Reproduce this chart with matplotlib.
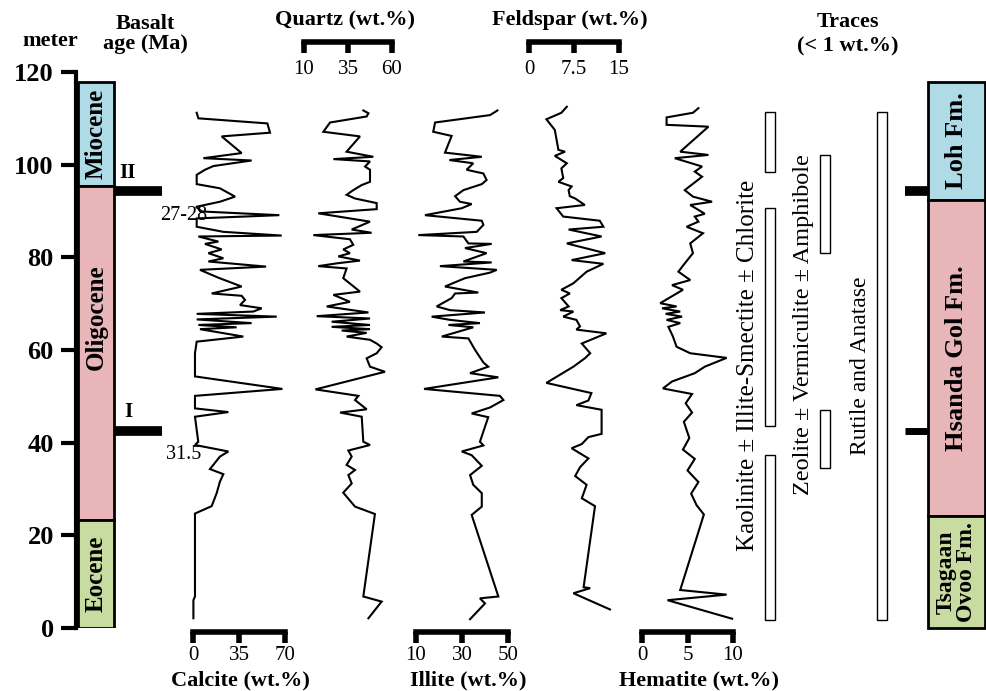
import matplotlib
matplotlib.use("Agg")
import matplotlib.pyplot as plt

plt.rcParams['font.family'] = ['Liberation Serif', 'DejaVu Serif']

W, H = 987, 691

# ---- DATA -------------------------------------------------------------
# depth (m) / content (wt.%) read from the logs, top to bottom
calcite_depth = [111.2, 110.0, 108.9, 106.9, 106.1, 102.5, 101.4, 100.9, 99.7, 98.9,
                 97.8, 95.8, 94.9, 93.1, 92.0, 90.9, 89.9, 89.1, 88.4, 86.6,
                 85.5, 84.7, 84.5, 83.4, 82.9, 81.7, 80.9, 79.8, 79.1, 78.0,
                 77.3, 75.6, 73.7, 72.2, 71.7, 70.8, 69.7, 69.0, 68.3, 67.8,
                 67.2, 66.6, 65.8, 65.4, 64.9, 64.5, 62.9, 61.8, 59.3, 54.3,
                 51.6, 50.1, 47.4, 46.6, 45.6, 40.2, 39.5, 38.1, 37.0, 34.3,
                 33.2, 31.6, 29.1, 26.3, 24.7, 6.8, 6.0, 2.1]
calcite = [2.8, 4.1, 56.6, 58.6, 21.8, 37.0, 7.9, 44.6, 15.5, 9.1,
           2.8, 2.8, 20.5, 32.0, 20.5, 2.3, 6.6, 65.7, 2.8, 2.8,
           23.1, 67.5, 4.1, 19.3, 9.1, 21.8, 11.7, 23.1, 11.7, 55.6,
           5.3, 19.3, 37.0, 14.2, 37.0, 39.6, 35.8, 52.3, 45.9, 2.8,
           63.7, 2.8, 44.6, 4.1, 33.2, 5.3, 38.3, 2.8, 1.5, 1.5,
           68.0, 1.5, 1.5, 26.9, 1.5, 4.0, 1.5, 26.9, 20.5, 12.9,
           23.1, 20.5, 18.0, 14.2, 1.5, 1.5, 0.3, 0.3]

quartz_depth = [111.7, 111.1, 110.4, 109.1, 107.1, 106.1, 102.8, 101.7, 101.2, 100.7,
                99.6, 98.9, 96.3, 95.6, 94.5, 93.5, 92.7, 91.7, 90.4, 89.5,
                87.7, 86.0, 85.3, 84.8, 83.9, 82.7, 81.7, 80.9, 80.2, 79.3,
                78.7, 78.1, 77.6, 75.5, 72.6, 71.9, 70.4, 69.4, 68.1, 67.3,
                66.8, 66.1, 65.4, 65.0, 64.5, 64.2, 63.7, 62.9, 62.2, 61.4,
                60.6, 59.3, 58.2, 56.4, 55.3, 51.5, 50.1, 49.2, 47.2, 46.5,
                45.6, 40.2, 39.5, 38.3, 37.0, 35.2, 34.1, 33.0, 31.2, 29.2,
                26.2, 24.6, 6.8, 5.7, 2.1]
quartz = [43.7, 46.6, 45.6, 24.8, 21.0, 41.8, 34.2, 49.4, 26.7, 47.5,
          44.7, 47.5, 47.5, 42.8, 38.0, 34.2, 39.0, 51.3, 51.3, 18.1,
          47.5, 37.1, 48.4, 15.3, 36.1, 38.0, 32.3, 36.1, 29.5, 41.8,
          28.6, 18.1, 34.2, 32.3, 41.8, 26.7, 36.1, 22.9, 46.6, 17.2,
          47.5, 25.7, 47.5, 25.7, 47.5, 31.4, 45.6, 34.2, 47.5, 51.3,
          54.1, 51.3, 45.6, 47.5, 56.0, 16.5, 40.9, 39.0, 45.6, 30.5,
          42.8, 43.7, 47.5, 35.2, 37.1, 34.2, 39.0, 35.2, 37.1, 32.3,
          39.0, 50.3, 43.7, 54.1, 46.6]

illite_depth = [111.7, 110.7, 109.1, 107.1, 106.2, 102.6, 101.7, 101.0, 100.3, 98.9,
                98.1, 96.7, 95.8, 94.5, 93.2, 92.0, 91.5, 90.6, 89.1, 87.9,
                87.0, 85.5, 84.8, 84.5, 83.0, 82.9, 82.0, 80.9, 79.1, 78.9,
                78.1, 77.3, 76.7, 75.5, 73.7, 72.4, 72.2, 71.2, 69.4, 68.6,
                68.1, 67.2, 66.5, 65.8, 65.4, 64.9, 62.9, 62.5, 60.0, 57.3,
                56.4, 55.0, 54.1, 51.6, 50.1, 49.2, 47.6, 46.3, 45.5, 40.2,
                39.4, 38.1, 37.3, 35.0, 33.0, 30.9, 29.1, 26.2, 24.4, 6.8,
                6.4, 5.3, 1.9]
illite = [45.4, 42.2, 18.3, 17.5, 25.5, 22.6, 38.6, 24.5, 34.9, 32.0,
          39.3, 40.7, 38.6, 30.6, 27.0, 29.1, 34.2, 29.9, 13.9, 38.6,
          39.3, 36.4, 11.0, 30.6, 32.8, 42.9, 31.3, 40.7, 30.6, 42.9,
          20.4, 45.1, 42.2, 31.3, 22.6, 37.1, 27.0, 25.5, 19.0, 24.8,
          40.0, 16.8, 24.8, 37.8, 24.1, 34.9, 21.2, 32.8, 35.7, 39.3,
          41.4, 33.5, 45.8, 13.5, 46.5, 48.0, 42.2, 34.2, 41.4, 37.8,
          39.3, 29.9, 34.2, 38.6, 33.5, 34.9, 38.6, 38.6, 34.2, 45.8,
          37.8, 40.0, 33.5]

feldspar_depth = [112.5, 111.2, 109.8, 107.5, 103.2, 102.8, 101.9, 100.3, 99.2, 97.1,
                  96.3, 95.3, 94.5, 93.2, 92.7, 91.3, 90.6, 88.8, 87.9, 86.6,
                  86.0, 84.5, 83.0, 80.9, 79.4, 78.6, 76.9, 74.4, 73.0, 72.2,
                  71.2, 69.4, 68.6, 68.3, 67.2, 66.5, 65.1, 64.4, 63.6, 61.4,
                  59.3, 58.2, 56.4, 52.9, 50.7, 49.1, 48.1, 47.1, 41.9, 41.2,
                  39.7, 38.8, 36.6, 34.7, 32.8, 30.9, 28.0, 26.3, 8.8, 8.6,
                  7.5, 4.0]
feldspar = [6.3, 5.4, 2.9, 4.3, 4.9, 6.0, 4.3, 6.3, 5.4, 5.7,
            4.9, 7.1, 6.6, 6.8, 7.7, 9.3, 4.6, 5.7, 11.8, 12.4,
            6.6, 12.1, 6.3, 12.7, 7.1, 12.4, 9.6, 7.4, 5.4, 6.8,
            5.4, 6.6, 5.2, 7.4, 5.7, 7.9, 8.5, 7.9, 12.9, 8.8,
            10.2, 9.3, 7.4, 2.9, 10.4, 9.9, 7.9, 12.1, 12.1, 9.9,
            8.8, 7.1, 9.9, 8.5, 7.7, 9.6, 8.8, 11.0, 9.1, 10.2,
            7.4, 13.5]

hematite_depth = [112.2, 111.2, 110.2, 108.6, 108.2, 102.8, 102.1, 101.4, 99.6, 98.5,
                  97.4, 94.5, 93.1, 92.0, 91.3, 89.4, 88.8, 87.7, 86.6, 85.2,
                  83.0, 80.9, 78.7, 76.9, 75.1, 74.0, 73.0, 70.1, 69.4, 69.0,
                  68.3, 67.8, 67.2, 66.5, 65.8, 65.0, 62.9, 60.7, 59.3, 58.3,
                  56.4, 55.0, 53.2, 51.7, 50.5, 48.5, 46.5, 44.5, 41.0, 38.5,
                  36.5, 34.0, 31.5, 29.0, 26.5, 24.5, 8.2, 7.2, 6.0, 2.0]
hematite = [6.2, 5.6, 2.7, 2.7, 7.3, 4.2, 7.3, 3.6, 6.6, 5.8,
            6.6, 4.7, 5.6, 7.7, 5.3, 6.9, 5.8, 6.2, 4.9, 6.7,
            5.3, 5.6, 4.7, 4.0, 5.3, 3.3, 4.5, 2.0, 3.8, 2.2,
            4.2, 2.6, 4.4, 2.7, 4.2, 2.9, 3.4, 3.8, 5.3, 9.3,
            6.9, 5.8, 3.3, 2.3, 5.5, 4.8, 5.5, 4.6, 5.2, 4.5,
            5.8, 5.0, 6.2, 5.4, 6.0, 6.8, 4.2, 9.3, 2.8, 9.9]

# epochs: name, base, top (m)
epoch_names = ['Miocene', 'Oligocene', 'Eocene']
epoch_base = [95.4, 23.3, 0.0]
epoch_top = [117.8, 95.4, 23.3]
epoch_colors = ['#aedbe6', '#e8b6b8', '#c8dba0']

# formations
fm_names = ['Loh Fm.', 'Hsanda Gol Fm.', 'Tsagaan\nOvoo Fm.']
fm_base = [92.4, 24.2, 0.0]
fm_top = [117.8, 92.4, 24.2]

# basalt layers
basalt_depth = [94.3, 42.6]
basalt_name = ['II', 'I']
basalt_age = ['27-28', '31.5']

# trace minerals: occurrence intervals (top, base)
kaolinite_iv = [(111.4, 98.4), (90.7, 43.6), (37.3, 1.7)]
zeolite_iv = [(102.1, 80.9), (47.1, 34.5)]
rutile_iv = [(111.4, 1.7)]


# ---- LAYOUT HELPERS ---------------------------------------------------
fig = plt.figure(figsize=(W / 100, H / 100), dpi=100)


def frame(x0, x1, y0=72, y1=628):
    """axes placed by a pixel box, depth axis 0-120 m"""
    ax = fig.add_axes([x0 / W, 1 - y1 / H, (x1 - x0) / W, (y1 - y0) / H])
    ax.set_ylim(0, 120)
    ax.patch.set_visible(False)
    return ax


def bracket(x0, x1, y, lo, hi, ticks, labels, pad):
    """scale bar drawn as a bottom spine with downward ticks"""
    ax = fig.add_axes([x0 / W, 1 - y / H, (x1 - x0) / W, 1e-4])
    ax.set_xlim(lo, hi)
    ax.set_yticks([])
    for s in ('top', 'left', 'right'):
        ax.spines[s].set_visible(False)
    ax.spines['bottom'].set_linewidth(4)
    ax.patch.set_visible(False)
    ax.set_xticks(ticks)
    ax.set_xticklabels(labels)
    ax.tick_params(axis='x', direction='out', length=8, width=4, pad=pad, labelsize=15)


def ptext(x, y, s, **kw):
    fig.text(x / W, 1 - y / H, s, ha='center', va='center', **kw)


# ---- DEPTH + EPOCH COLUMN ---------------------------------------------
ax0 = frame(76, 210)
ax0.set_xlim(0, 134)
for s in ('top', 'right', 'bottom'):
    ax0.spines[s].set_visible(False)
ax0.spines['left'].set_linewidth(3)
ax0.set_xticks([])
ax0.set_yticks(range(0, 121, 20))
ax0.tick_params(axis='y', length=11, width=3, pad=5, labelsize=19)
for t in ax0.get_yticklabels():
    t.set_fontweight('bold')

hts = [t - b for t, b in zip(epoch_top, epoch_base)]
ax0.bar(20, hts, bottom=epoch_base, width=36, color=epoch_colors,
        edgecolor='k', linewidth=2)
epoch_label_y = [106.6, 67.0, 11.6]
for name, y in zip(epoch_names, epoch_label_y):
    ax0.text(20, y, name, rotation=90, ha='center', va='center',
             fontsize=18, fontweight='bold')

ax0.hlines(basalt_depth, 38, 86, color='k', linewidth=7)
for d, n, a in zip(basalt_depth, basalt_name, basalt_age):
    ax0.text(52, d + 4, n, ha='center', va='center', fontsize=15, fontweight='bold')
    ax0.text(108, d - 5.2, a, ha='center', va='center', fontsize=14.5)

# ---- MINERAL LOGS -----------------------------------------------------
logs = [
    (193, 285, 0, 70, calcite, calcite_depth),
    (304, 392, 10, 60, quartz, quartz_depth),
    (416, 508, 10, 50, illite, illite_depth),
    (529, 619, 0, 15, feldspar, feldspar_depth),
    (642, 733, 0, 10, hematite, hematite_depth),
]
for x0, x1, lo, hi, vals, dep in logs:
    ax = frame(x0, x1)
    ax.set_xlim(lo, hi)
    ax.axis('off')
    ax.plot(vals, dep, color='k', linewidth=1.5, solid_joinstyle='miter', clip_on=False)

bracket(193, 285, 632, 0, 70, [0, 35, 70], ['0', '35', '70'], 2)
bracket(416, 508, 632, 10, 50, [10, 30, 50], ['10', '30', '50'], 2)
bracket(642, 733, 632, 0, 10, [0, 5, 10], ['0', '5', '10'], 2)
bracket(304, 392, 42, 10, 60, [10, 35, 60], ['10', '35', '60'], 5)
bracket(529, 619, 42, 0, 15, [0, 7.5, 15], ['0', '7.5', '15'], 5)

ptext(240, 680, 'Calcite (wt.%)', fontsize=16, fontweight='bold')
ptext(468, 680, 'Illite (wt.%)', fontsize=16, fontweight='bold')
ptext(699, 680, 'Hematite (wt.%)', fontsize=16, fontweight='bold')
ptext(345, 20, 'Quartz (wt.%)', fontsize=16, fontweight='bold')
ptext(570, 20, 'Feldspar (wt.%)', fontsize=16, fontweight='bold')
ptext(50, 41, 'meter', fontsize=16, fontweight='bold')
ptext(145, 34, 'Basalt\nage (Ma)', fontsize=16, fontweight='bold', linespacing=1.05)
ptext(848, 34, 'Traces\n(< 1 wt.%)', fontsize=16, fontweight='bold', linespacing=1.3)

# ---- TRACES -----------------------------------------------------------
axt = frame(740, 900)
axt.set_xlim(740, 900)
axt.axis('off')
for xc, ivs in ((770, kaolinite_iv), (825, zeolite_iv), (882, rutile_iv)):
    tops = [a for a, b in ivs]
    bases = [b for a, b in ivs]
    axt.bar(xc, [a - b for a, b in zip(tops, bases)], bottom=bases, width=10,
            color='white', edgecolor='k', linewidth=1)

ptext(748, 365, 'Kaolinite ± Illite-Smectite ± Chlorite', rotation=90, fontsize=18)
ptext(803, 325, 'Zeolite ± Vermiculite ± Amphibole', rotation=90, fontsize=17.5)
ptext(861, 366, 'Rutile and Anatase', rotation=90, fontsize=17)

# ---- FORMATIONS -------------------------------------------------------
axf = frame(905, 985)
axf.set_xlim(0, 80)
axf.axis('off')
fh = [t - b for t, b in zip(fm_top, fm_base)]
axf.bar(51.5, fh, bottom=fm_base, width=57, color=epoch_colors,
        edgecolor='k', linewidth=2, clip_on=False)
axf.hlines(basalt_depth, 0, 23, color='k', linewidth=[7, 5])
for name, b, t, fs in zip(fm_names, fm_base, fm_top, (19, 19, 17)):
    axf.text(51.5, (b + t) / 2, name, rotation=90, ha='center', va='center',
             fontsize=fs, fontweight='bold', linespacing=1.0)

fig.savefig('out.png', dpi=100)
